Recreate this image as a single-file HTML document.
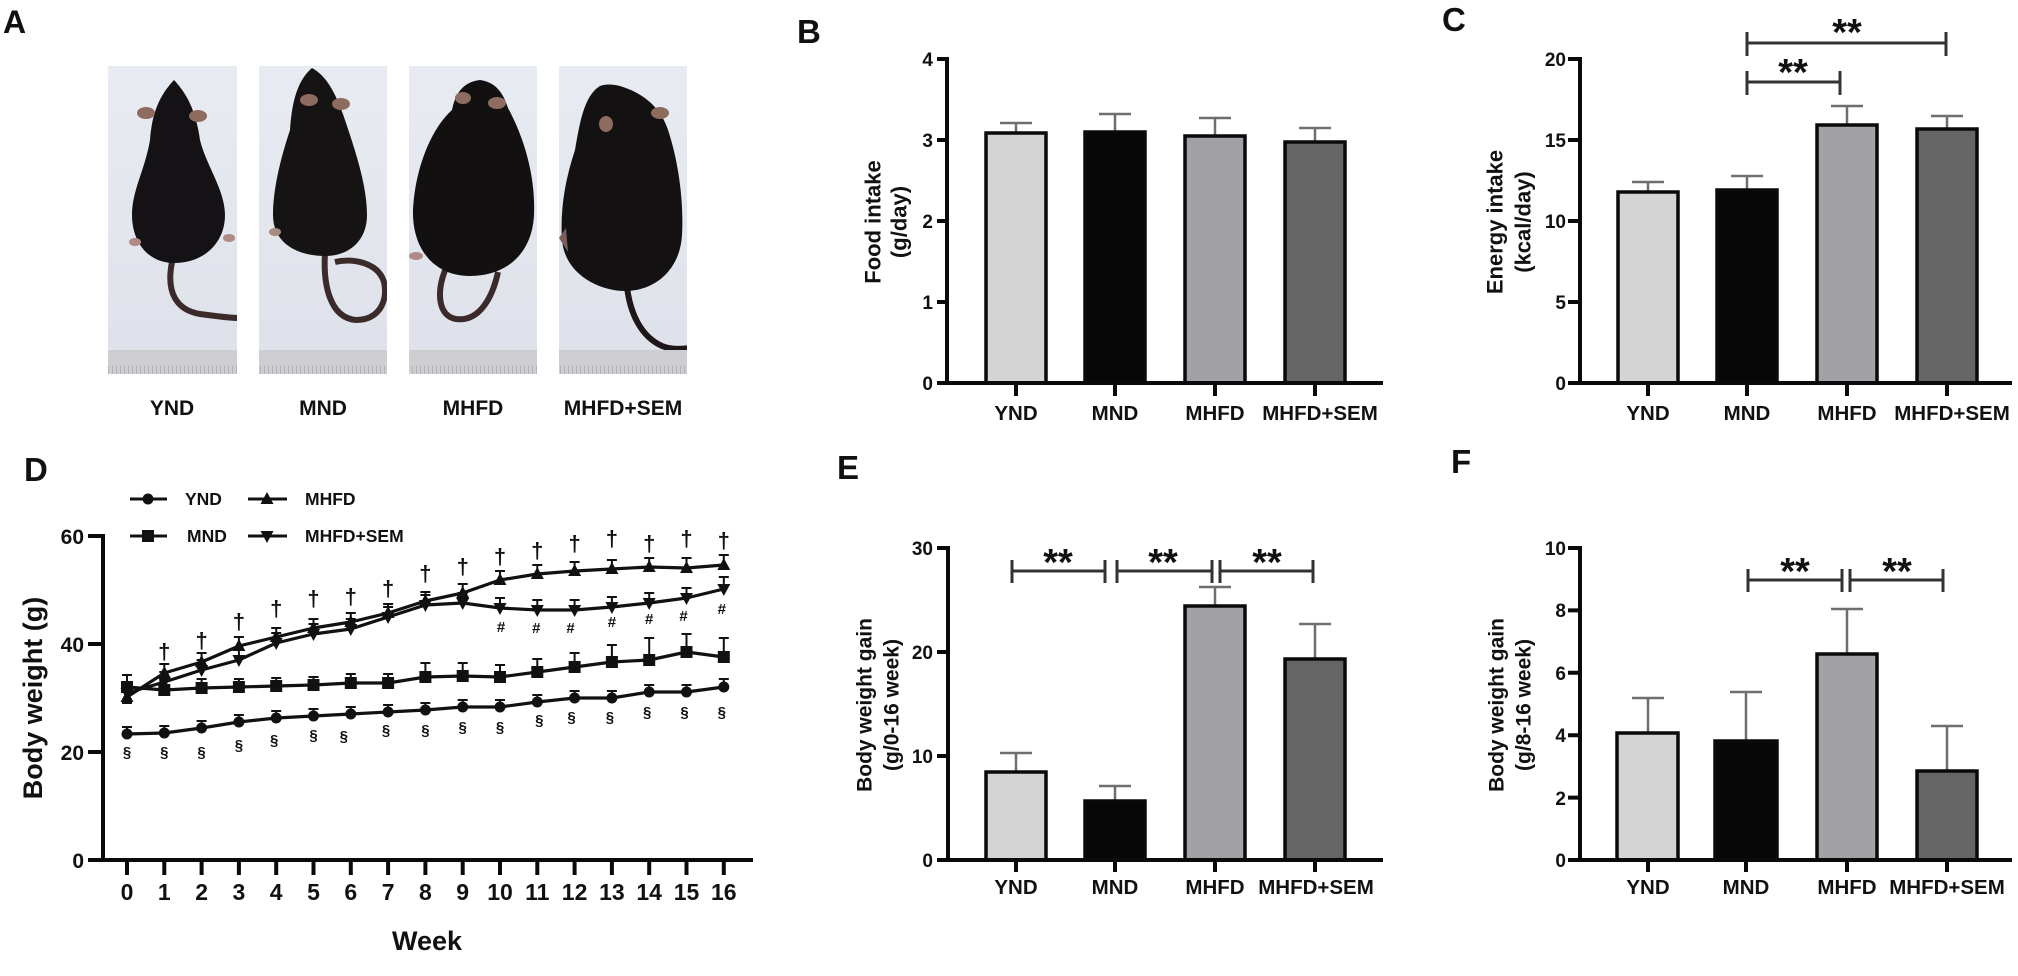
<!DOCTYPE html>
<html><head><meta charset="utf-8"><style>
html,body{margin:0;padding:0;background:#fff;}
svg{display:block;}
text{font-family:"Liberation Sans",Arial,sans-serif;font-weight:bold;fill:#111;}
</style></head><body>
<svg width="2018" height="976" viewBox="0 0 2018 976" xmlns="http://www.w3.org/2000/svg">
<defs>
<path id="tu" d="M0,-7L6.5,5L-6.5,5Z" fill="#111"/>
<path id="td" d="M0,7L6.5,-5L-6.5,-5Z" fill="#111"/>
<linearGradient id="bg" x1="0" y1="0" x2="0" y2="1"><stop offset="0" stop-color="#e9ebf2"/><stop offset="1" stop-color="#dfe1ea"/></linearGradient>
<pattern id="rul" x="0" y="0" width="4" height="24" patternUnits="userSpaceOnUse"><rect width="4" height="24" fill="#cdcdd2"/><rect x="0" y="6" width="1" height="8" fill="#b3b3b9"/></pattern>
<clipPath id="c1"><rect x="108" y="66" width="129" height="308"/></clipPath>
<clipPath id="c2"><rect x="259" y="66" width="128" height="308"/></clipPath>
<clipPath id="c3"><rect x="409" y="66" width="128" height="308"/></clipPath>
<clipPath id="c4"><rect x="559" y="66" width="128" height="308"/></clipPath>
</defs>

<!-- ========== Panel A ========== -->
<text x="3" y="33" font-size="32">A</text>
<g clip-path="url(#c1)">
<rect x="108" y="66" width="129" height="308" fill="url(#bg)"/>
<path d="M172,262 C166,292 176,310 200,314 C215,316 228,318 240,318" fill="none" stroke="#3b2a2a" stroke-width="6"/>
<path d="M174,80 C160,95 152,112 150,140 C145,170 132,190 132,215 C132,242 148,263 174,263 C205,263 225,242 225,215 C225,190 206,165 200,140 C196,112 188,95 174,80 Z" fill="#141214"/>
<ellipse cx="146" cy="113" rx="9" ry="6" fill="#8d6b5f"/><ellipse cx="198" cy="116" rx="9" ry="6" fill="#8d6b5f"/>
<ellipse cx="135" cy="242" rx="6" ry="4" fill="#b08a84"/><ellipse cx="229" cy="238" rx="6" ry="4" fill="#b08a84"/>
<rect x="108" y="350" width="129" height="24" fill="url(#rul)"/>
</g>
<g clip-path="url(#c2)">
<rect x="259" y="66" width="128" height="308" fill="url(#bg)"/>
<path d="M325,253 C323,285 330,318 356,320 C380,320 388,300 384,282 C378,262 352,258 335,262" fill="none" stroke="#3b2a2a" stroke-width="6"/>
<path d="M312,68 C298,80 292,100 290,130 C280,160 273,190 273,215 C273,245 300,256 325,256 C350,256 367,240 367,215 C367,185 355,150 345,120 C335,90 325,75 312,68 Z" fill="#161314"/>
<ellipse cx="309" cy="100" rx="9" ry="6" fill="#8d6b5f"/><ellipse cx="341" cy="104" rx="9" ry="6" fill="#8d6b5f"/>
<ellipse cx="275" cy="232" rx="6" ry="4" fill="#a88a80"/>
<rect x="259" y="350" width="128" height="24" fill="url(#rul)"/>
</g>
<g clip-path="url(#c3)">
<rect x="409" y="66" width="128" height="308" fill="url(#bg)"/>
<path d="M446,268 C436,292 438,316 456,319 C478,322 492,300 498,272" fill="none" stroke="#3b2a2a" stroke-width="6"/>
<path d="M480,80 C462,82 455,95 452,110 C430,130 415,170 413,210 C412,250 435,276 470,276 C505,276 532,255 534,215 C536,170 520,130 508,108 C503,92 495,82 480,80 Z" fill="#121011"/>
<ellipse cx="463" cy="98" rx="8" ry="6" fill="#8d6b5f"/><ellipse cx="497" cy="103" rx="9" ry="6" fill="#8d6b5f"/>
<ellipse cx="416" cy="256" rx="7" ry="4" fill="#b08a84"/>
<rect x="409" y="350" width="128" height="24" fill="url(#rul)"/>
</g>
<g clip-path="url(#c4)">
<rect x="559" y="66" width="128" height="308" fill="url(#bg)"/>
<path d="M627,287 C630,312 640,336 662,346 C672,350 682,349 690,348" fill="none" stroke="#1e1618" stroke-width="6"/>
<path d="M600,86 C585,95 580,120 575,150 C565,180 560,210 562,240 C565,275 600,291 625,291 C655,291 680,270 682,235 C684,200 678,160 668,130 C660,105 640,92 620,86 C612,84 605,84 600,86 Z" fill="#131112"/>
<ellipse cx="606" cy="124" rx="7" ry="8" fill="#8d6b5f"/><ellipse cx="660" cy="113" rx="9" ry="6" fill="#8d6b5f"/>
<path d="M566,228 L559,238 L568,252 Z" fill="#7a5f58"/>
<rect x="559" y="350" width="128" height="24" fill="url(#rul)"/>
</g>
<g font-size="21" text-anchor="middle">
<text x="172" y="415">YND</text>
<text x="323" y="415">MND</text>
<text x="473" y="415">MHFD</text>
<text x="623" y="415">MHFD+SEM</text>
</g>

<!-- ========== Panel B ========== -->
<text x="797" y="43" font-size="33">B</text>
<g text-anchor="middle" font-size="22">
<text transform="translate(873,222) rotate(-90)" dominant-baseline="central">Food intake</text>
<text transform="translate(899,222) rotate(-90)" dominant-baseline="central">(g/day)</text>
</g>
<g font-size="19" text-anchor="end">
<text x="933" y="390">0</text><text x="933" y="309">1</text><text x="933" y="228">2</text><text x="933" y="147">3</text><text x="933" y="66">4</text>
</g>
<g stroke="#6e6e6e" stroke-width="2.5" fill="none">
<path d="M1016,133V123M1000,123h32"/>
<path d="M1115,132V114M1099,114h32"/>
<path d="M1215,136V118M1199,118h32"/>
<path d="M1315,142V128M1299,128h32"/>
</g>
<g stroke="#0a0a0a" stroke-width="3.5">
<rect x="986" y="133" width="60" height="250" fill="#d4d4d4"/>
<rect x="1085" y="132" width="60" height="251" fill="#070707"/>
<rect x="1185" y="136" width="60" height="247" fill="#a2a2a6"/>
<rect x="1285" y="142" width="60" height="241" fill="#656565"/>
</g>
<g stroke="#0a0a0a" stroke-width="4" fill="none">
<path d="M947,57V385"/>
<path d="M937,383H1383"/>
<path d="M937,59h10M937,140h10M937,221h10M937,302h10"/>
<path d="M1016,383v13M1115,383v13M1215,383v13M1315,383v13"/>
</g>
<g font-size="20.5" text-anchor="middle">
<text x="1016" y="420">YND</text><text x="1115" y="420">MND</text><text x="1215" y="420">MHFD</text><text x="1320" y="420">MHFD+SEM</text>
</g>

<!-- ========== Panel C ========== -->
<text x="1442" y="31" font-size="33">C</text>
<g text-anchor="middle" font-size="22">
<text transform="translate(1495,222) rotate(-90)" dominant-baseline="central">Energy intake</text>
<text transform="translate(1523,222) rotate(-90)" dominant-baseline="central">(kcal/day)</text>
</g>
<g font-size="19" text-anchor="end">
<text x="1566" y="390">0</text><text x="1566" y="309">5</text><text x="1566" y="228">10</text><text x="1566" y="147">15</text><text x="1566" y="66">20</text>
</g>
<g stroke="#6e6e6e" stroke-width="2.5" fill="none">
<path d="M1648,192V182M1632,182h32"/>
<path d="M1747,190V176M1731,176h32"/>
<path d="M1847,125V106M1831,106h32"/>
<path d="M1947,129V116M1931,116h32"/>
</g>
<g stroke="#0a0a0a" stroke-width="3.5">
<rect x="1618" y="192" width="60" height="191" fill="#d4d4d4"/>
<rect x="1717" y="190" width="60" height="193" fill="#070707"/>
<rect x="1817" y="125" width="60" height="258" fill="#a2a2a6"/>
<rect x="1917" y="129" width="60" height="254" fill="#656565"/>
</g>
<g stroke="#0a0a0a" stroke-width="4" fill="none">
<path d="M1580,57V385"/>
<path d="M1568,383H2012"/>
<path d="M1568,59h12M1568,140h12M1568,221h12M1568,302h12"/>
<path d="M1648,383v13M1747,383v13M1847,383v13M1947,383v13"/>
</g>
<g stroke="#333" stroke-width="3" fill="none">
<path d="M1747,82H1840M1747,71v24M1840,71v24"/>
<path d="M1747,43H1946M1747,32v24M1946,32v24"/>
</g>
<g font-size="38" text-anchor="middle">
<text x="1793" y="85">**</text>
<text x="1847" y="45">**</text>
</g>
<g font-size="20.5" text-anchor="middle">
<text x="1648" y="420">YND</text><text x="1747" y="420">MND</text><text x="1847" y="420">MHFD</text><text x="1952" y="420">MHFD+SEM</text>
</g>

<!-- ========== Panel D ========== -->
<text x="24" y="481" font-size="33">D</text>
<text transform="translate(33,698) rotate(-90)" text-anchor="middle" dominant-baseline="central" font-size="27">Body weight (g)</text>
<g font-size="21" text-anchor="end">
<text x="84" y="868">0</text><text x="84" y="760">20</text><text x="84" y="652">40</text><text x="84" y="544">60</text>
</g>
<g stroke="#0a0a0a" stroke-width="4" fill="none">
<path d="M103,534V862"/>
<path d="M88,860H753"/>
<path d="M88,536h15M88,644h15M88,752h15"/>
<path d="M127,860v15M164.3,860v15M201.6,860v15M238.9,860v15M276.2,860v15M313.5,860v15M350.8,860v15M388.1,860v15M425.4,860v15M462.7,860v15M500,860v15M537.3,860v15M574.6,860v15M611.9,860v15M649.2,860v15M686.5,860v15M723.8,860v15"/>
</g>
<g font-size="23" text-anchor="middle">
<text x="127" y="900">0</text><text x="164.3" y="900">1</text><text x="201.6" y="900">2</text><text x="238.9" y="900">3</text><text x="276.2" y="900">4</text><text x="313.5" y="900">5</text><text x="350.8" y="900">6</text><text x="388.1" y="900">7</text><text x="425.4" y="900">8</text><text x="462.7" y="900">9</text><text x="500" y="900">10</text><text x="537.3" y="900">11</text><text x="574.6" y="900">12</text><text x="611.9" y="900">13</text><text x="649.2" y="900">14</text><text x="686.5" y="900">15</text><text x="723.8" y="900">16</text>
</g>
<text x="427" y="950" font-size="27" text-anchor="middle">Week</text>

<!-- legend -->
<g stroke="#111" stroke-width="3"><path d="M130,499H167M248,499H287M130,536H167M248,536H287"/></g>
<circle cx="148" cy="499" r="5.5" fill="#111"/>
<use href="#tu" x="267" y="499"/>
<rect x="142" y="530" width="12" height="12" fill="#111"/>
<use href="#td" x="267" y="536"/>
<g font-size="17.5">
<text x="185" y="505">YND</text><text x="305" y="505">MHFD</text>
<text x="187" y="542">MND</text><text x="305" y="542">MHFD+SEM</text>
</g>

<!-- error bars -->
<g stroke="#111" stroke-width="2" fill="none">
<path d="M127,734V727M122,727h10M164.3,733V726M159.3,726h10M201.6,728V721M196.6,721h10M238.9,722V715M233.9,715h10M276.2,718V711M271.2,711h10M313.5,716V709M308.5,709h10M350.8,714V707M345.8,707h10M388.1,712V705M383.1,705h10M425.4,710V703M420.4,703h10M462.7,707V700M457.7,700h10M500,707V700M495,700h10M537.3,702V695M532.3,695h10M574.6,698V691M569.6,691h10M611.9,698V691M606.9,691h10M649.2,692V685M644.2,685h10M686.5,692V685M681.5,685h10M723.8,687V679M718.8,679h10"/>
<path d="M127,687V675M122,675h10M164.3,690V681M159.3,681h10M201.6,688V679M196.6,679h10M238.9,687V679M233.9,679h10M276.2,686V678M271.2,678h10M313.5,685V677M308.5,677h10M350.8,683V674M345.8,674h10M388.1,683V674M383.1,674h10M425.4,677V663M420.4,663h10M462.7,676V663M457.7,663h10M500,677V665M495,665h10M537.3,672V659M532.3,659h10M574.6,667V653M569.6,653h10M611.9,662V645M606.9,645h10M649.2,660V638M644.2,638h10M686.5,652V634M681.5,634h10M723.8,657V638M718.8,638h10"/>
<path d="M127,697V688M122,688h10M164.3,673V664M159.3,664h10M201.6,662V653M196.6,653h10M238.9,646V637M233.9,637h10M276.2,637V628M271.2,628h10M313.5,628V619M308.5,619h10M350.8,622V613M345.8,613h10M388.1,613V604M383.1,604h10M425.4,601V592M420.4,592h10M462.7,593V584M457.7,584h10M500,580V571M495,571h10M537.3,574V565M532.3,565h10M574.6,571V562M569.6,562h10M611.9,569V560M606.9,560h10M649.2,567V558M644.2,558h10M686.5,568V558M681.5,558h10M723.8,565V555M718.8,555h10"/>
<path d="M127,693V703M122,703h10M164.3,682V672M159.3,672h10M201.6,670V660M196.6,660h10M238.9,660V650M233.9,650h10M276.2,643V633M271.2,633h10M313.5,634V624M308.5,624h10M350.8,629V619M345.8,619h10M388.1,617V607M383.1,607h10M425.4,605V595M420.4,595h10M462.7,603V593M457.7,593h10M500,608V598M495,598h10M537.3,610V600M532.3,600h10M574.6,610V600M569.6,600h10M611.9,607V597M606.9,597h10M649.2,603V593M644.2,593h10M686.5,598V588M681.5,588h10M723.8,589V577M718.8,577h10"/>
</g>

<!-- lines -->
<g stroke="#111" stroke-width="3.2" fill="none" stroke-linejoin="round">
<polyline points="127,734 164.3,733 201.6,728 238.9,722 276.2,718 313.5,716 350.8,714 388.1,712 425.4,710 462.7,707 500,707 537.3,702 574.6,698 611.9,698 649.2,692 686.5,692 723.8,687"/>
<polyline points="127,687 164.3,690 201.6,688 238.9,687 276.2,686 313.5,685 350.8,683 388.1,683 425.4,677 462.7,676 500,677 537.3,672 574.6,667 611.9,662 649.2,660 686.5,652 723.8,657"/>
<polyline points="127,697 164.3,673 201.6,662 238.9,646 276.2,637 313.5,628 350.8,622 388.1,613 425.4,601 462.7,593 500,580 537.3,574 574.6,571 611.9,569 649.2,567 686.5,568 723.8,565"/>
<polyline points="127,693 164.3,682 201.6,670 238.9,660 276.2,643 313.5,634 350.8,629 388.1,617 425.4,605 462.7,603 500,608 537.3,610 574.6,610 611.9,607 649.2,603 686.5,598 723.8,589"/>
</g>

<!-- markers -->
<g fill="#111">
<circle cx="127" cy="734" r="5.5"/><circle cx="164.3" cy="733" r="5.5"/><circle cx="201.6" cy="728" r="5.5"/><circle cx="238.9" cy="722" r="5.5"/><circle cx="276.2" cy="718" r="5.5"/><circle cx="313.5" cy="716" r="5.5"/><circle cx="350.8" cy="714" r="5.5"/><circle cx="388.1" cy="712" r="5.5"/><circle cx="425.4" cy="710" r="5.5"/><circle cx="462.7" cy="707" r="5.5"/><circle cx="500" cy="707" r="5.5"/><circle cx="537.3" cy="702" r="5.5"/><circle cx="574.6" cy="698" r="5.5"/><circle cx="611.9" cy="698" r="5.5"/><circle cx="649.2" cy="692" r="5.5"/><circle cx="686.5" cy="692" r="5.5"/><circle cx="723.8" cy="687" r="5.5"/>
<rect x="121" y="681" width="12" height="12"/><rect x="158.3" y="684" width="12" height="12"/><rect x="195.6" y="682" width="12" height="12"/><rect x="232.9" y="681" width="12" height="12"/><rect x="270.2" y="680" width="12" height="12"/><rect x="307.5" y="679" width="12" height="12"/><rect x="344.8" y="677" width="12" height="12"/><rect x="382.1" y="677" width="12" height="12"/><rect x="419.4" y="671" width="12" height="12"/><rect x="456.7" y="670" width="12" height="12"/><rect x="494" y="671" width="12" height="12"/><rect x="531.3" y="666" width="12" height="12"/><rect x="568.6" y="661" width="12" height="12"/><rect x="605.9" y="656" width="12" height="12"/><rect x="643.2" y="654" width="12" height="12"/><rect x="680.5" y="646" width="12" height="12"/><rect x="717.8" y="651" width="12" height="12"/>
</g>
<use href="#tu" x="127" y="697"/><use href="#tu" x="164.3" y="673"/><use href="#tu" x="201.6" y="662"/><use href="#tu" x="238.9" y="646"/><use href="#tu" x="276.2" y="637"/><use href="#tu" x="313.5" y="628"/><use href="#tu" x="350.8" y="622"/><use href="#tu" x="388.1" y="613"/><use href="#tu" x="425.4" y="601"/><use href="#tu" x="462.7" y="593"/><use href="#tu" x="500" y="580"/><use href="#tu" x="537.3" y="574"/><use href="#tu" x="574.6" y="571"/><use href="#tu" x="611.9" y="569"/><use href="#tu" x="649.2" y="567"/><use href="#tu" x="686.5" y="568"/><use href="#tu" x="723.8" y="565"/>
<use href="#td" x="127" y="693"/><use href="#td" x="164.3" y="682"/><use href="#td" x="201.6" y="670"/><use href="#td" x="238.9" y="660"/><use href="#td" x="276.2" y="643"/><use href="#td" x="313.5" y="634"/><use href="#td" x="350.8" y="629"/><use href="#td" x="388.1" y="617"/><use href="#td" x="425.4" y="605"/><use href="#td" x="462.7" y="603"/><use href="#td" x="500" y="608"/><use href="#td" x="537.3" y="610"/><use href="#td" x="574.6" y="610"/><use href="#td" x="611.9" y="607"/><use href="#td" x="649.2" y="603"/><use href="#td" x="686.5" y="598"/><use href="#td" x="723.8" y="589"/>

<!-- annotations -->
<g font-size="22" text-anchor="middle">
<text x="164.3" y="659">†</text><text x="201.6" y="648">†</text><text x="238.9" y="629">†</text><text x="276.2" y="616">†</text><text x="313.5" y="606">†</text><text x="350.8" y="604">†</text><text x="388.1" y="596">†</text><text x="425.4" y="581">†</text><text x="462.7" y="574">†</text><text x="500" y="564">†</text><text x="537.3" y="558">†</text><text x="574.6" y="551">†</text><text x="611.9" y="546">†</text><text x="649.2" y="551">†</text><text x="686.5" y="546">†</text><text x="723.8" y="548">†</text>
</g>
<g font-size="15" text-anchor="middle" style="fill:#333">
<text x="127" y="757">§</text><text x="164.3" y="757">§</text><text x="201.6" y="757">§</text><text x="238.9" y="750">§</text><text x="274.2" y="745">§</text><text x="313.5" y="740">§</text><text x="343.8" y="741">§</text><text x="386.1" y="735">§</text><text x="425.4" y="735">§</text><text x="462.7" y="732">§</text><text x="500" y="732">§</text><text x="539.3" y="725">§</text><text x="571.6" y="722">§</text><text x="609.9" y="722">§</text><text x="647.2" y="717">§</text><text x="684.5" y="717">§</text><text x="721.8" y="717">§</text>
</g>
<g font-size="15" text-anchor="middle" style="fill:#333">
<text x="501" y="632">#</text><text x="536.3" y="633">#</text><text x="570.6" y="633">#</text><text x="611.9" y="627">#</text><text x="649.2" y="624">#</text><text x="683.5" y="621">#</text><text x="721.8" y="614">#</text>
</g>

<!-- ========== Panel E ========== -->
<text x="837" y="479" font-size="33">E</text>
<g text-anchor="middle" font-size="21">
<text transform="translate(865,705) rotate(-90)" dominant-baseline="central">Body weight gain</text>
<text transform="translate(892,705) rotate(-90)" dominant-baseline="central">(g/0-16 week)</text>
</g>
<g font-size="19" text-anchor="end">
<text x="933" y="867">0</text><text x="933" y="763">10</text><text x="933" y="659">20</text><text x="933" y="555">30</text>
</g>
<g stroke="#6e6e6e" stroke-width="2.5" fill="none">
<path d="M1016,772V753M1000,753h32"/>
<path d="M1115,801V786M1099,786h32"/>
<path d="M1215,606V587M1199,587h32"/>
<path d="M1315,659V624M1299,624h32"/>
</g>
<g stroke="#0a0a0a" stroke-width="3.5">
<rect x="986" y="772" width="60" height="88" fill="#d4d4d4"/>
<rect x="1085" y="801" width="60" height="59" fill="#070707"/>
<rect x="1185" y="606" width="60" height="254" fill="#a2a2a6"/>
<rect x="1285" y="659" width="60" height="201" fill="#656565"/>
</g>
<g stroke="#0a0a0a" stroke-width="4" fill="none">
<path d="M948,546V862"/>
<path d="M937,860H1383"/>
<path d="M937,548h11M937,652h11M937,756h11"/>
<path d="M1016,860v12M1115,860v12M1215,860v12M1315,860v12"/>
</g>
<g stroke="#333" stroke-width="3" fill="none">
<path d="M1012,571H1105M1012,560v23M1105,560v23"/>
<path d="M1117,571H1212M1117,560v23M1212,560v23"/>
<path d="M1220,571H1313M1220,560v23M1313,560v23"/>
</g>
<g font-size="38" text-anchor="middle">
<text x="1058" y="575">**</text><text x="1163" y="575">**</text><text x="1267" y="575">**</text>
</g>
<g font-size="20.5" text-anchor="middle">
<text x="1016" y="894">YND</text><text x="1115" y="894">MND</text><text x="1215" y="894">MHFD</text><text x="1316" y="894">MHFD+SEM</text>
</g>

<!-- ========== Panel F ========== -->
<text x="1451" y="473" font-size="33">F</text>
<g text-anchor="middle" font-size="21">
<text transform="translate(1497,705) rotate(-90)" dominant-baseline="central">Body weight gain</text>
<text transform="translate(1524,705) rotate(-90)" dominant-baseline="central">(g/8-16 week)</text>
</g>
<g font-size="19" text-anchor="end">
<text x="1566" y="867">0</text><text x="1566" y="805">2</text><text x="1566" y="742">4</text><text x="1566" y="680">6</text><text x="1566" y="617">8</text><text x="1566" y="555">10</text>
</g>
<g stroke="#6e6e6e" stroke-width="2.5" fill="none">
<path d="M1648,733V698M1632,698h32"/>
<path d="M1746,741V692M1730,692h32"/>
<path d="M1847,654V609M1831,609h32"/>
<path d="M1947,771V726M1931,726h32"/>
</g>
<g stroke="#0a0a0a" stroke-width="3.5">
<rect x="1617" y="733" width="61" height="127" fill="#d4d4d4"/>
<rect x="1715" y="741" width="62" height="119" fill="#070707"/>
<rect x="1817" y="654" width="60" height="206" fill="#a2a2a6"/>
<rect x="1917" y="771" width="60" height="89" fill="#656565"/>
</g>
<g stroke="#0a0a0a" stroke-width="4" fill="none">
<path d="M1580,546V862"/>
<path d="M1568,860H2012"/>
<path d="M1568,548h12M1568,610.4h12M1568,672.8h12M1568,735.2h12M1568,797.6h12"/>
<path d="M1648,860v12M1746,860v12M1847,860v12M1947,860v12"/>
</g>
<g stroke="#333" stroke-width="3" fill="none">
<path d="M1748,580H1842M1748,569v23M1842,569v23"/>
<path d="M1850,580H1943M1850,569v23M1943,569v23"/>
</g>
<g font-size="38" text-anchor="middle">
<text x="1795" y="584">**</text><text x="1897" y="584">**</text>
</g>
<g font-size="20.5" text-anchor="middle">
<text x="1648" y="894">YND</text><text x="1746" y="894">MND</text><text x="1847" y="894">MHFD</text><text x="1947" y="894">MHFD+SEM</text>
</g>
</svg>
</body></html>
